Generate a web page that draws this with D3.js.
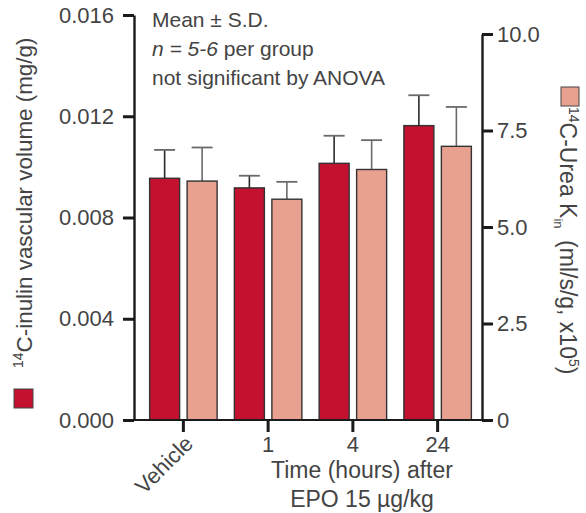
<!DOCTYPE html>
<html>
<head>
<meta charset="utf-8">
<script src="https://cdn.jsdelivr.net/npm/d3@7"></script>
<style>
  body { margin: 0; background: #fff; }
  svg text { font-family: "Liberation Sans", Arial, sans-serif; fill: #444; }
</style>
</head>
<body>
<div id="viz"></div>
<script>
// data
const categories = ['Vehicle', '1', '4', '24'];
const inulinMean = [0.00955, 0.00917, 0.01014, 0.01163];
const inulinSD = [0.00112, 0.00048, 0.00109, 0.00120];
const ureaMean = [6.19, 5.72, 6.49, 7.09];
const ureaSD = [0.87, 0.45, 0.76, 1.02];
const leftTicks = [0, 0.004, 0.008, 0.012, 0.016];
const rightTicks = [0, 2.5, 5, 7.5, 10];
const notes = ['Mean \u00b1 S.D.', 'n = 5-6 per group', 'not significant by ANOVA'];

const width = 586,
  height = 513,
  darkRed = '#c3112f',
  salmon = '#e8a191';

const svg = d3.select('#viz')
  .append('svg')
  .attr('width', width)
  .attr('height', height);

const yLeft = d3.scaleLinear()
  .domain([0, 0.016])
  .range([420, 15]);

const yRight = d3.scaleLinear()
  .domain([0, 10])
  .range([420, 34]);

const x = d3.scaleBand()
  .domain(categories)
  .range([141, 480]);

const xSub = d3.scaleBand()
  .domain(['inulin', 'urea'])
  .range([0, x.bandwidth()])
  .paddingInner(0.2)
  .paddingOuter(0.23);

const rows = categories.map((c, i) => [
  { cat: c, key: 'inulin', y: yLeft, mean: inulinMean[i], sd: inulinSD[i], fill: darkRed, err: '#2a2a2a' },
  { cat: c, key: 'urea', y: yRight, mean: ureaMean[i], sd: ureaSD[i], fill: salmon, err: '#6a6a6a' }
]).flat();

// error bars (upper only)
const err = svg.append('g').selectAll('g')
  .data(rows)
  .enter().append('g')
  .attr('transform', d => 'translate(' + (x(d.cat) + xSub(d.key) + xSub.bandwidth() / 2) + ',0)');

err.append('line')
  .attr('y1', d => d.y(d.mean))
  .attr('y2', d => d.y(d.mean + d.sd))
  .attr('stroke', d => d.err)
  .attr('stroke-width', 1.6);

err.append('line')
  .attr('x1', -10.5)
  .attr('x2', 10.5)
  .attr('y1', d => d.y(d.mean + d.sd))
  .attr('y2', d => d.y(d.mean + d.sd))
  .attr('stroke', '#6a6a6a')
  .attr('stroke-width', 1.8);

// bars
svg.append('g').selectAll('rect')
  .data(rows)
  .enter().append('rect')
  .attr('x', d => x(d.cat) + xSub(d.key))
  .attr('width', xSub.bandwidth())
  .attr('y', d => d.y(d.mean))
  .attr('height', d => 420 - d.y(d.mean))
  .attr('fill', d => d.fill)
  .attr('stroke', '#333')
  .attr('stroke-width', 1.4);

// axes
const leftAxis = svg.append('g')
  .attr('transform', 'translate(134,0)')
  .call(d3.axisLeft(yLeft)
    .tickValues(leftTicks)
    .tickFormat(d3.format('.3f'))
    .tickSize(11)
    .tickSizeOuter(0)
    .tickPadding(9));

const rightAxis = svg.append('g')
  .attr('transform', 'translate(482,0)')
  .call(d3.axisRight(yRight)
    .tickValues(rightTicks)
    .tickFormat(d => d === 0 ? '0' : d3.format('.1f')(d))
    .tickSize(11)
    .tickSizeOuter(0)
    .tickPadding(4));

const bottomAxis = svg.append('g')
  .attr('transform', 'translate(0,420)')
  .call(d3.axisBottom(x)
    .tickSize(12)
    .tickSizeOuter(0)
    .tickPadding(4.5));

[leftAxis, rightAxis, bottomAxis].forEach(a => {
  a.selectAll('.tick line').attr('stroke', '#1a1a1a').attr('stroke-width', 3);
  a.select('.domain').attr('stroke', '#1a1a1a').attr('stroke-width', 2.4);
  a.selectAll('text').style('font-size', '22px').attr('fill', '#444');
});

bottomAxis.select('.domain').remove();
svg.append('line')
  .attr('x1', 134).attr('x2', 482)
  .attr('y1', 420).attr('y2', 420)
  .attr('stroke', '#1a1a1a')
  .attr('stroke-width', 2.2);

bottomAxis.selectAll('.tick text')
  .filter(d => d === 'Vehicle')
  .attr('y', 0)
  .attr('dy', 0)
  .attr('text-anchor', 'end')
  .attr('transform', 'translate(11,25) rotate(-45)');

// x title
svg.append('text')
  .attr('x', 362).attr('y', 478)
  .attr('text-anchor', 'middle')
  .style('font-size', '23px')
  .text('Time (hours) after');

svg.append('text')
  .attr('x', 362).attr('y', 507)
  .attr('text-anchor', 'middle')
  .style('font-size', '23px')
  .text('EPO 15 \u00b5g/kg');

// left title with legend swatch
svg.append('rect')
  .attr('x', 14).attr('y', 389)
  .attr('width', 19).attr('height', 19)
  .attr('fill', darkRed)
  .attr('stroke', '#444')
  .attr('stroke-width', 1);

const lt = svg.append('text')
  .attr('transform', 'translate(32,368) rotate(-90)')
  .style('font-size', '22.4px');
lt.append('tspan').style('font-size', '14px').attr('dy', -9).text('14');
lt.append('tspan').attr('dy', 9).text('C-inulin vascular volume (mg/g)');

// right title with legend swatch
svg.append('rect')
  .attr('x', 561).attr('y', 87)
  .attr('width', 18).attr('height', 19)
  .attr('fill', salmon)
  .attr('stroke', '#444')
  .attr('stroke-width', 1);

const rt = svg.append('text')
  .attr('transform', 'translate(560,107) rotate(90)')
  .style('font-size', '23px');
rt.append('tspan').style('font-size', '14px').attr('dy', -9).text('14');
rt.append('tspan').attr('dy', 9).text('C-Urea K');
rt.append('tspan').style('font-size', '13px').attr('dy', 6).text('in');
rt.append('tspan').attr('dy', -6).text('\u2002(ml/s/g, x10');
rt.append('tspan').style('font-size', '14px').attr('dy', -9).text('5');
rt.append('tspan').attr('dy', 9).text(')');

// notes
const nt = svg.append('g').style('font-size', '21px');
nt.append('text').attr('x', 152).attr('y', 27).text(notes[0]);
const n2 = nt.append('text').attr('x', 152).attr('y', 55.5);
n2.append('tspan').style('font-style', 'italic').text('n = 5-6');
n2.append('tspan').text(' per group');
nt.append('text').attr('x', 152).attr('y', 84.5).text(notes[2]);
</script>
</body>
</html>
